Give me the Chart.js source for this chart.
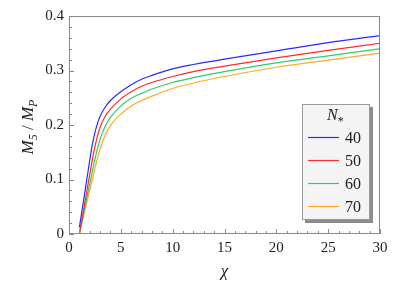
<!DOCTYPE html>
<html>
<head>
<meta charset="utf-8">
<script src="https://cdn.jsdelivr.net/npm/chart.js@4.4.1/dist/chart.umd.min.js"></script>
<style>
  html, body { margin: 0; padding: 0; background: #fff; }
</style>
</head>
<body>
<canvas id="chart" width="409" height="286"></canvas>
<script>
/* ---- data ---- */
var chiValues = [1, 1.5, 2, 2.25, 2.5, 2.75, 3, 3.5, 4, 5, 6, 7, 8, 10, 12, 15, 20, 25, 30];
var n40 = [0.012, 0.073, 0.135, 0.164, 0.186, 0.203, 0.216, 0.233, 0.245, 0.261, 0.274, 0.284, 0.291, 0.303, 0.311, 0.321, 0.336, 0.351, 0.364];
var n50 = [0.000, 0.055, 0.109, 0.136, 0.160, 0.180, 0.196, 0.216, 0.229, 0.248, 0.261, 0.271, 0.278, 0.289, 0.298, 0.308, 0.323, 0.337, 0.350];
var n60 = [0.000, 0.046, 0.092, 0.115, 0.137, 0.157, 0.174, 0.198, 0.214, 0.235, 0.249, 0.258, 0.266, 0.278, 0.287, 0.298, 0.314, 0.327, 0.340];
var n70 = [0.000, 0.040, 0.080, 0.100, 0.120, 0.139, 0.156, 0.182, 0.199, 0.220, 0.235, 0.245, 0.253, 0.267, 0.277, 0.289, 0.306, 0.319, 0.332];
var seriesLabels = ['40', '50', '60', '70'];
var seriesColors = ['#2a2aff', '#ff2a2a', '#2ecc6a', '#ffaa22'];

var FRAME = '#8a8a8a';
var SERIF = "'Liberation Serif', 'DejaVu Serif', serif";

function toPoints(ys) {
  return ys.map(function(y, i) { return { x: chiValues[i], y: y }; });
}

/* ----------------------------------------------------------
   Frame, minor ticks, axis titles and legend box
   ---------------------------------------------------------- */
var decorPlugin = {
  id: 'decor',
  afterDraw: function(chart) {
    var ctx = chart.ctx;
    var a = chart.chartArea;
    var xs = chart.scales.x, ys = chart.scales.y;
    ctx.save();

    // frame
    ctx.strokeStyle = FRAME;
    ctx.lineWidth = 1;
    ctx.strokeRect(Math.round(a.left) + 0.5, Math.round(a.top) + 0.5,
                   Math.round(a.right - a.left) - 1, Math.round(a.bottom - a.top) - 1);

    // inward ticks
    ctx.beginPath();
    for (var i = 0; i <= 30; i++) {
      var px = Math.round(xs.getPixelForValue(i)) + 0.5;
      var len = (i % 5 === 0) ? 5 : 3;
      ctx.moveTo(px, a.bottom);
      ctx.lineTo(px, a.bottom - len);
    }
    for (var j = 0; j <= 20; j++) {
      var py = Math.round(ys.getPixelForValue(j * 0.02)) + 0.5;
      var ylen = (j % 5 === 0) ? 5 : 3;
      ctx.moveTo(a.left, py);
      ctx.lineTo(a.left + ylen, py);
    }
    ctx.stroke();

    // x title
    ctx.fillStyle = '#222';
    ctx.font = 'italic 17px ' + SERIF;
    ctx.textAlign = 'center';
    ctx.textBaseline = 'alphabetic';
    ctx.fillText('\u03C7', (a.left + a.right) / 2, 276);

    // y title: M5 / MP
    ctx.save();
    ctx.translate(33, (a.top + a.bottom) / 2 + 2);
    ctx.rotate(-Math.PI / 2);
    var parts = [
      { t: 'M', f: 'italic 17px ' + SERIF, dy: 0 },
      { t: '5', f: 'italic 12px ' + SERIF, dy: 4 },
      { t: ' / ', f: '17px ' + SERIF, dy: 0 },
      { t: 'M', f: 'italic 17px ' + SERIF, dy: 0 },
      { t: 'P', f: 'italic 12px ' + SERIF, dy: 4 }
    ];
    var total = 0;
    parts.forEach(function(p) { ctx.font = p.f; total += ctx.measureText(p.t).width; });
    var cx = -total / 2;
    ctx.textAlign = 'left';
    parts.forEach(function(p) {
      ctx.font = p.f;
      ctx.fillText(p.t, cx, p.dy);
      cx += ctx.measureText(p.t).width;
    });
    ctx.restore();

    // legend box
    var bx = 302, by = 104, bw = 68, bh = 116;
    ctx.fillStyle = '#8c8c8c';
    ctx.fillRect(bx + 3, by + 3, bw, bh);
    ctx.fillStyle = '#f4f4f4';
    ctx.fillRect(bx, by, bw, bh);
    ctx.strokeStyle = '#9a9a9a';
    ctx.strokeRect(bx + 0.5, by + 0.5, bw - 1, bh - 1);

    ctx.fillStyle = '#222';
    ctx.textAlign = 'left';
    ctx.font = 'italic 16px ' + SERIF;
    ctx.fillText('N', 327, 120);
    var nw = ctx.measureText('N').width;
    ctx.font = '12px ' + SERIF;
    ctx.fillText('*', 327 + nw, 125);

    ctx.font = '16px ' + SERIF;
    ctx.textBaseline = 'middle';
    for (var k = 0; k < seriesLabels.length; k++) {
      var ry = 137.5 + k * 23;
      ctx.strokeStyle = seriesColors[k];
      ctx.lineWidth = 1.2;
      ctx.beginPath();
      ctx.moveTo(308, ry);
      ctx.lineTo(339, ry);
      ctx.stroke();
      ctx.fillStyle = '#222';
      ctx.fillText(seriesLabels[k], 345, ry + 1);
    }
    ctx.restore();
  }
};

var allSeries = [n40, n50, n60, n70];

new Chart(document.getElementById('chart'), {
  type: 'line',
  data: {
    datasets: allSeries.map(function(ys, i) {
      return {
        label: seriesLabels[i],
        data: toPoints(ys),
        borderColor: seriesColors[i],
        borderWidth: 1.2,
        pointRadius: 0,
        fill: false,
        cubicInterpolationMode: 'monotone'
      };
    })
  },
  options: {
    responsive: false,
    animation: false,
    layout: { padding: { left: 25, top: 16, right: 29, bottom: 0 } },
    plugins: { legend: { display: false }, tooltip: { enabled: false } },
    scales: {
      x: {
        type: 'linear', min: 0, max: 30,
        grid: { display: false, drawTicks: false },
        border: { display: false },
        ticks: { stepSize: 5, padding: 5, color: '#222', font: { family: SERIF, size: 15 } },
        afterFit: function(s) { s.height = 52; }
      },
      y: {
        type: 'linear', min: 0, max: 0.4,
        grid: { display: false, drawTicks: false },
        border: { display: false },
        ticks: { stepSize: 0.1, padding: 5, color: '#222', font: { family: SERIF, size: 15 } },
        afterFit: function(s) { s.width = 44; }
      }
    }
  },
  plugins: [decorPlugin]
});
</script>
</body>
</html>
